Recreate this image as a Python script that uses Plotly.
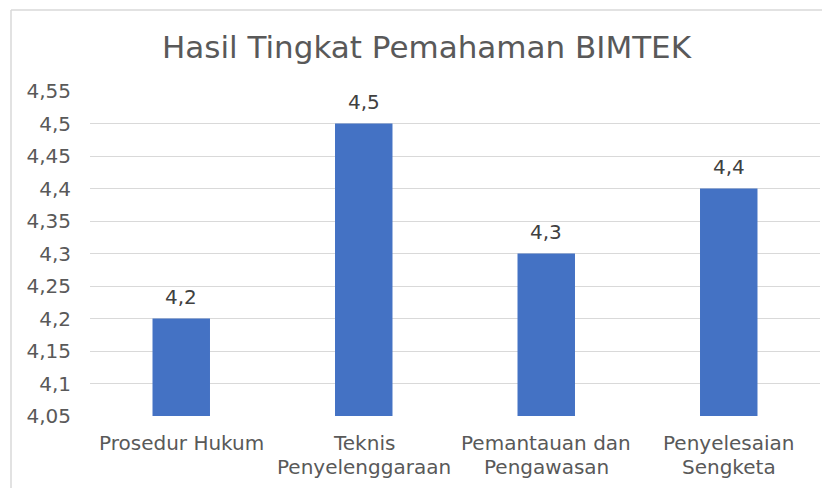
import plotly.graph_objects as go

categories = ["Prosedur Hukum", "Teknis<br>Penyelenggaraan", "Pemantauan dan<br>Pengawasan", "Penyelesaian<br>Sengketa"]
values = [4.2, 4.5, 4.3, 4.4]
value_labels = ["4,2", "4,5", "4,3", "4,4"]
tick_values = [4.05, 4.1, 4.15, 4.2, 4.25, 4.3, 4.35, 4.4, 4.45, 4.5, 4.55]
tick_labels = ["4,05", "4,1", "4,15", "4,2", "4,25", "4,3", "4,35", "4,4", "4,45", "4,5", "4,55"]
base_value = 4.05

FONT = "DejaVu Sans"
# page body has an 8px margin; figure sized to fit the 830x488 window
W, H = 822, 480
L, R, T, B = 82, 10, 83, 72
pw, ph = W - L - R, H - T - B

fig = go.Figure(go.Bar(
    x=categories,
    y=[v - base_value for v in values],
    base=base_value,
    marker=dict(color="#4472C4", line=dict(width=0)),
    width=0.315,
    hoverinfo="skip",
))

annotations = []
for cat, val, lab in zip(categories, values, value_labels):
    annotations.append(dict(x=cat, y=val, xref="x", yref="y", text=lab, showarrow=False,
                            yanchor="bottom", yshift=8,
                            font=dict(family=FONT, size=20, color="#404040")))
    for i, line in enumerate(cat.split("<br>")):
        annotations.append(dict(x=cat, y=0, xref="x", yref="paper", text=line, showarrow=False,
                                yanchor="top", yshift=-13 - 23.5 * i,
                                font=dict(family=FONT, size=20, color="#595959")))

fig.update_layout(
    width=W, height=H,
    margin=dict(l=L, r=R, t=T, b=B),
    paper_bgcolor="white", plot_bgcolor="white",
    font=dict(family=FONT, color="#595959"),
    title=dict(text="Hasil Tingkat Pemahaman BIMTEK", x=418.5 / W, xref="container", xanchor="center",
               y=1 - 39 / H, yref="container", yanchor="middle",
               font=dict(family=FONT, size=31, color="#595959")),
    showlegend=False,
    xaxis=dict(showgrid=False, showline=False, ticks="", showticklabels=False),
    yaxis=dict(range=[4.05, 4.55], tickvals=tick_values, ticktext=tick_labels, showgrid=True,
               gridcolor="#D9D9D9", gridwidth=1, zeroline=False, showline=False, ticks="",
               ticklabelstandoff=18, tickfont=dict(family=FONT, size=20, color="#595959")),
    annotations=annotations,
    shapes=[
        dict(type="line", xref="paper", yref="paper",
             x0=(3 - L) / pw, x1=(3 - L) / pw, y0=1 + (T - 2) / ph, y1=-(H - T + 10) / ph,
             line=dict(color="#D9D9D9", width=1.5)),
        dict(type="line", xref="paper", yref="paper",
             x0=(3 - L) / pw, x1=(W + 20 - L) / pw, y0=1 + (T - 2) / ph, y1=1 + (T - 2) / ph,
             line=dict(color="#D9D9D9", width=1.5)),
    ],
)

fig.write_html("out.html")
